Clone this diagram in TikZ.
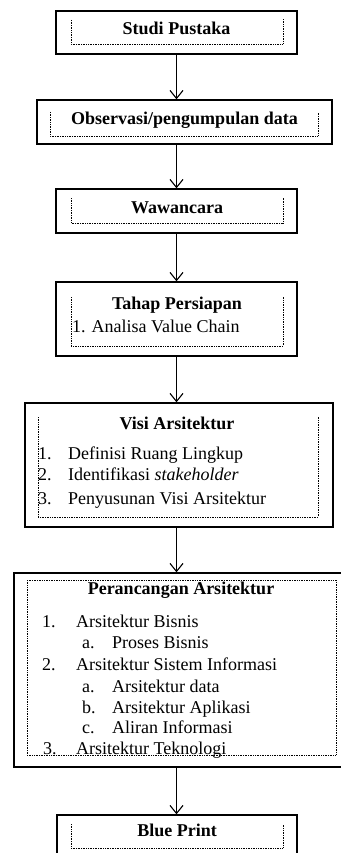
\documentclass[tikz,border=0pt]{standalone}
\usepackage{fontspec}
\setmainfont{Liberation Serif}
\usetikzlibrary{arrows.meta}

\begin{document}
\begin{tikzpicture}[x=1pt, y=-1pt,
    stepbox/.style={draw, line width=1.4pt, inner sep=0pt},
    frame/.style={line width=0.8pt, dash pattern=on 0.9pt off 0.8pt},
    flow/.style={line width=1.1pt, -{Straight Barb[length=8pt, width=13pt, line width=1.1pt]}},
    title/.style={font=\fontsize{18}{22}\selectfont\bfseries, anchor=mid},
    item/.style={font=\fontsize{18}{22}\selectfont, anchor=mid west, inner sep=0pt}]
    \useasboundingbox (0,0) rectangle (340,853);

    \node[stepbox, minimum width=241, minimum height=43] (studi) at (176.5,32.5) {};
    \node[stepbox, minimum width=295, minimum height=44] (obs) at (184.5,122) {};
    \node[stepbox, minimum width=241, minimum height=44] (wawan) at (176.5,211) {};
    \node[stepbox, minimum width=241, minimum height=74] (tahap) at (176.5,319) {};
    \node[stepbox, minimum width=308, minimum height=124] (visi) at (179,465) {};
    \node[stepbox, minimum width=332, minimum height=194] (rancang) at (180,670) {};
    \node[stepbox, minimum width=240, minimum height=43] (blue) at (177,836.5) {};

    \draw[frame] (71,20) |- (283,44) -- (283,19);
    \draw[frame] (50,112) |- (318,136) -- (318,112);
    \draw[frame] (71,198) |- (283,223) -- (283,198);
    \draw[frame] (71,297) |- (283,346) -- (283,297);
    \draw[frame] (38,417) |- (318,517) -- (318,417);
    \draw[frame] (27,580) rectangle (336,755);
    \draw[frame] (71,824) |- (283,848) -- (283,824);

    \draw[flow] (studi.south) -- (obs.north -| studi.south);
    \draw[flow] (obs.south -| studi.south) -- (wawan.north);
    \draw[flow] (wawan.south) -- (tahap.north);
    \draw[flow] (tahap.south) -- (visi.north -| tahap.south);
    \draw[flow] (visi.south -| tahap.south) -- (rancang.north -| tahap.south);
    \draw[flow] (rancang.south -| tahap.south) -- (blue.north -| tahap.south);

    \node[title] (t1) at (176.5,32) {Studi Pustaka};
    \node[title] (t2) at (184.5,122) {Observasi/pengumpulan data};
    \node[title] (t3) at (177,211) {Wawancara};
    \node[title] (t4) at (177,307) {Tahap Persiapan};
    \node[item] (t4a) at (72,330) {1. Analisa Value Chain};

    \node[title] (t5) at (177,427) {Visi Arsitektur};
    \node[item] (n51) at (38,457) {1.};
    \node[item] (t51) at (68,457) {Definisi Ruang Lingkup};
    \node[item] (n52) at (38,478) {2.};
    \node[item] (t52) at (68,478) {Identifikasi \textit{stakeholder}};
    \node[item] (n53) at (38,502) {3.};
    \node[item] (t53) at (68,502) {Penyusunan Visi Arsitektur};

    \node[title] (t6) at (181,592) {Perancangan Arsitektur};
    \node[item] (n61) at (42,625) {1.};
    \node[item] (t61) at (76,625) {Arsitektur Bisnis};
    \node[item] (n61a) at (82,646) {a.};
    \node[item] (t61a) at (112,646) {Proses Bisnis};
    \node[item] (n62) at (42,668) {2.};
    \node[item] (t62) at (76,668) {Arsitektur Sistem Informasi};
    \node[item] (n62a) at (82,690) {a.};
    \node[item] (t62a) at (112,690) {Arsitektur data};
    \node[item] (n62b) at (82,711) {b.};
    \node[item] (t62b) at (112,711) {Arsitektur Aplikasi};
    \node[item] (n62c) at (82,731) {c.};
    \node[item] (t62c) at (112,731) {Aliran Informasi};
    \node[item] (n63) at (43,752) {3.};
    \node[item] (t63) at (76,752) {Arsitektur Teknologi};

    \node[title] (t7) at (177,834) {Blue Print};
\end{tikzpicture}
\end{document}
